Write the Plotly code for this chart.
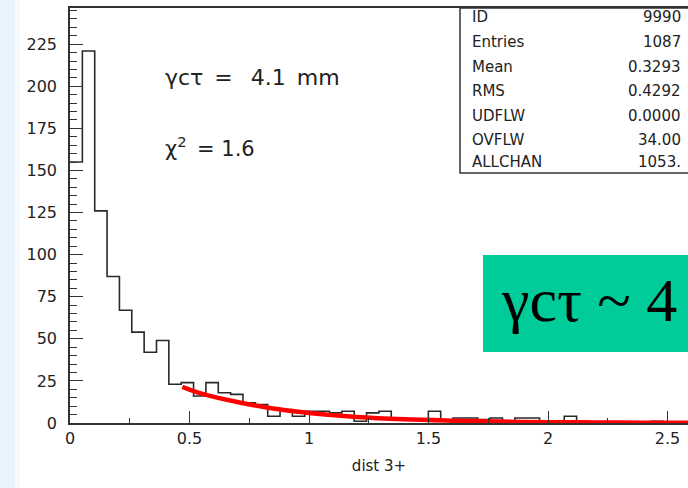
import plotly.graph_objects as go

# ---------------- data ----------------
bin_width = 0.0517
counts = [155, 221, 126, 87, 67, 54, 42, 49, 23, 24,
          16, 24, 18, 17, 12, 11, 4, 8, 4, 7,
          7, 6, 7, 1, 6, 7, 2, 2, 2, 7,
          1, 3, 3, 2, 3, 1, 3, 3, 1, 1,
          4, 1, 0, 0, 0, 0, 0, 1, 0, 0, 0]

fit_x = [0.47, 0.55, 0.70, 0.85, 1.00, 1.20, 1.40, 1.60, 1.80, 2.00, 2.20, 2.40, 2.60]
fit_y = [21.5, 17.5, 12.5, 8.6, 6.0, 3.6, 2.2, 1.4, 0.85, 0.5, 0.3, 0.2, 0.12]

stat_labels = ["ID", "Entries", "Mean", "RMS", "UDFLW", "OVFLW", "ALLCHAN"]
stat_values = ["9990", "1087", "0.3293", "0.4292", "0.0000", "34.00", "1053."]

x_ticks = [0, 0.5, 1, 1.5, 2, 2.5]
x_ticklabels = ["0", "0.5", "1", "1.5", "2", "2.5"]
y_ticks = [0, 25, 50, 75, 100, 125, 150, 175, 200, 225]

fit_text = "\u03b3c\u03c4\u2002=\u2002 4.1\u2002mm"
chi_text = "\u03c7<sup>2</sup>\u2002= 1.6"
big_text = "\u03b3c\u03c4 ~ 4"
x_title = "dist 3+"

# ---------------- geometry helpers ----------------
W, H = 688, 488
L, R, T, B = 70, 688, 8, 423


def px(x):
    return (x - L) / (R - L)


def py(y):
    return (B - y) / (B - T)


edges = [i * bin_width for i in range(len(counts) + 1)]
steps_y = counts + [counts[-1]]

fig = go.Figure()
fig.add_trace(go.Scatter(x=edges, y=steps_y, mode="lines", line_shape="hv",
                         line=dict(color="#2a2a2a", width=1.6),
                         hoverinfo="skip", showlegend=False))
fig.add_trace(go.Scatter(x=fit_x, y=fit_y, mode="lines", line_shape="spline",
                         line=dict(color="#ff0000", width=4.5),
                         hoverinfo="skip", showlegend=False))

font_main = "DejaVu Sans, Liberation Sans, Arial"

shapes = []
# light blue strip at left of slide
shapes.append(dict(type="rect", xref="paper", yref="paper",
                   x0=px(0), x1=px(15), y0=py(H + 5), y1=py(-5),
                   fillcolor="#e9f3fc", line=dict(width=0), layer="below"))
shapes.append(dict(type="rect", xref="paper", yref="paper",
                   x0=px(15), x1=px(20), y0=py(H + 5), y1=py(-5),
                   fillcolor="#f4f9fe", line=dict(width=0), layer="below"))
# stats box
shapes.append(dict(type="rect", xref="paper", yref="paper",
                   x0=px(460), x1=px(700), y0=py(173), y1=py(T),
                   fillcolor="rgba(0,0,0,0)", line=dict(color="#333333", width=1.5)))
# green box
shapes.append(dict(type="rect", xref="paper", yref="paper",
                   x0=px(483), x1=px(700), y0=py(352), y1=py(255),
                   fillcolor="#00cc99", line=dict(width=0)))

annotations = []
row_y = [17, 42, 67, 91, 116, 140, 162]
for lab, val, yy in zip(stat_labels, stat_values, row_y):
    annotations.append(dict(x=px(470), y=py(yy), xref="paper", yref="paper",
                            text=lab, showarrow=False, xanchor="left", yanchor="middle",
                            font=dict(family=font_main, size=15, color="#222222")))
    annotations.append(dict(x=px(683), y=py(yy), xref="paper", yref="paper",
                            text=val, showarrow=False, xanchor="right", yanchor="middle",
                            font=dict(family=font_main, size=15, color="#222222")))

annotations.append(dict(x=px(163), y=py(77), xref="paper", yref="paper",
                        text=fit_text, showarrow=False, xanchor="left", yanchor="middle",
                        font=dict(family=font_main, size=22, color="#222222")))
annotations.append(dict(x=px(163), y=py(147), xref="paper", yref="paper",
                        text=chi_text, showarrow=False, xanchor="left", yanchor="middle",
                        font=dict(family=font_main, size=21, color="#222222")))
annotations.append(dict(x=px(589), y=py(300), xref="paper", yref="paper",
                        text=big_text, showarrow=False, xanchor="center", yanchor="middle",
                        font=dict(family="Liberation Serif, Times New Roman, serif",
                                  size=62, color="#000000")))

fig.update_layout(
    width=W, height=H, autosize=False,
    margin=dict(l=L, r=W - R, t=T, b=H - B),
    paper_bgcolor="white", plot_bgcolor="white",
    shapes=shapes, annotations=annotations,
    showlegend=False,
    font=dict(family=font_main, size=16, color="#222222"),
)

fig.update_xaxes(
    range=[0, (R - L) / 239.0],
    tickmode="array", tickvals=x_ticks, ticktext=x_ticklabels,
    ticks="inside", ticklen=12, tickwidth=1.3, tickcolor="#333333",
    minor=dict(dtick=0.25, ticks="inside", ticklen=5, tickwidth=1.3, tickcolor="#333333"),
    showline=True, linecolor="#333333", linewidth=1.5, mirror=True,
    showgrid=False, zeroline=False,
    tickfont=dict(family=font_main, size=16, color="#222222"),
    title=dict(text=x_title, standoff=14, font=dict(family=font_main, size=15, color="#222222")),
)
fig.update_yaxes(
    range=[0, 246.5],
    tickmode="array", tickvals=y_ticks,
    ticks="inside", ticklen=13, tickwidth=1.3, tickcolor="#333333",
    minor=dict(dtick=5, ticks="inside", ticklen=7, tickwidth=1.3, tickcolor="#333333"),
    showline=True, linecolor="#333333", linewidth=1.5, mirror=False,
    showgrid=False, zeroline=False,
    ticklabelstandoff=8,
    tickfont=dict(family=font_main, size=16, color="#222222"),
)

fig.write_html(
    "out.html",
    config={"displayModeBar": False},
    post_script="document.body.style.margin='0';document.body.style.overflow='hidden';",
)
